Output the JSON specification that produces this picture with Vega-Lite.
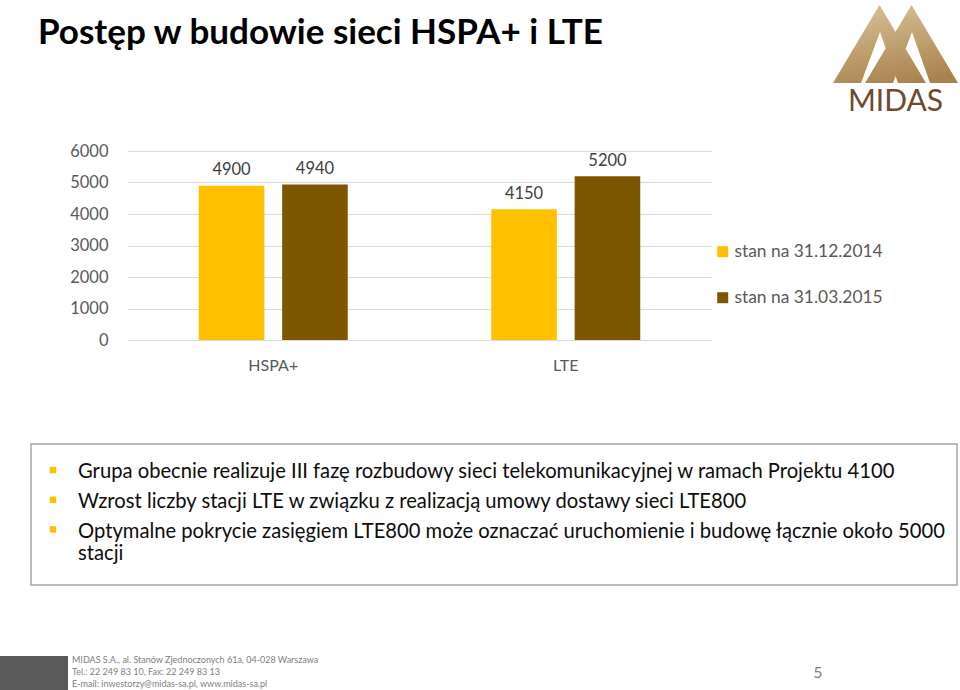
{
  "$schema": "https://vega.github.io/schema/vega-lite/v6.json",
  "background": "white",
  "padding": {"left": 0, "top": 5, "right": 0, "bottom": 0},
  "spacing": 70,
  "config": {"view": {"stroke": null}, "font": "Lato"},
  "vconcat": [
    {
      "spacing": 37,
      "hconcat": [
        {"width": 1, "height": 1, "data": {"values": []}, "mark": {"type": "point", "opacity": 0}},
        {
          "width": 585,
          "height": 189,
          "title": {"text": "Postęp w budowie sieci HSPA+ i LTE", "anchor": "start", "frame": "group", "dx": -89, "offset": -46, "font": "Lato", "fontSize": 35, "fontWeight": "bold", "color": "#000000"},
          "layer": [
            {
              "data": {"values": [
                {"technologia": "HSPA+", "stan": "stan na 31.12.2014", "stacje": 4900},
                {"technologia": "HSPA+", "stan": "stan na 31.03.2015", "stacje": 4940},
                {"technologia": "LTE", "stan": "stan na 31.12.2014", "stacje": 4150},
                {"technologia": "LTE", "stan": "stan na 31.03.2015", "stacje": 5200}
              ]},
              "encoding": {
                "x": {"field": "technologia", "type": "nominal", "sort": ["HSPA+", "LTE"], "scale": {"paddingInner": 0.4906, "paddingOuter": 0.2453},
                      "axis": {"title": null, "labelAngle": 0, "domain": false, "ticks": false, "tickSize": 0, "labelPadding": 17, "labelFontSize": 16, "labelColor": "#595959", "labelFont": "Lato"}},
                "xOffset": {"field": "stan", "type": "nominal", "sort": ["stan na 31.12.2014", "stan na 31.03.2015"], "scale": {"paddingInner": 0.2134, "paddingOuter": 0}},
                "y": {"field": "stacje", "type": "quantitative", "scale": {"domain": [0, 6000], "nice": false},
                      "axis": {"title": null, "values": [0, 1000, 2000, 3000, 4000, 5000, 6000], "format": "d", "domain": false, "ticks": false, "tickSize": 0, "labelPadding": 19, "labelFontSize": 16.5, "labelColor": "#595959", "labelFont": "Lato", "gridColor": "#d9d9d9", "gridWidth": 1}}
              },
              "layer": [
                {
                  "mark": {"type": "bar"},
                  "encoding": {
                    "color": {"field": "stan", "type": "nominal", "sort": ["stan na 31.12.2014", "stan na 31.03.2015"],
                              "scale": {"domain": ["stan na 31.12.2014", "stan na 31.03.2015"], "range": ["#FFC000", "#7F5600"]},
                              "legend": {"title": null, "orient": "none", "legendX": 714, "legendY": 92, "direction": "vertical", "symbolType": "square", "symbolSize": 121, "symbolStrokeWidth": 0, "labelFontSize": 17.4, "labelColor": "#595959", "labelFont": "Lato", "labelOffset": 3, "rowPadding": 27}}
                  }
                },
                {
                  "mark": {"type": "text", "baseline": "alphabetic", "dy": -10.5, "fontSize": 16.5, "color": "#404040"},
                  "encoding": {"text": {"field": "stacje", "type": "quantitative", "format": "d"}}
                }
              ]
            },
            {
              "data": {"values": [{"logo": "MIDAS"}]},
              "layer": [
                {
                  "mark": {"type": "point", "shape": "M-1,0.624L-0.256,-0.624L0.488,0.624L0.04,0.624L-0.248,-0.192L-0.552,0.624ZM-0.488,0.624L0.256,-0.624L1,0.624L0.552,0.624L0.264,-0.192L-0.04,0.624Z",
                           "size": 15625, "filled": true, "opacity": 1, "strokeWidth": 0,
                           "color": {"gradient": "linear", "x1": 0.3, "y1": 0, "x2": 0.6, "y2": 1, "stops": [{"offset": 0, "color": "#d8be96"}, {"offset": 1, "color": "#a9834f"}]}},
                  "encoding": {"x": {"value": 768.5}, "y": {"value": -107}}
                },
                {
                  "mark": {"type": "text", "fontSize": 30, "color": "#6b4b2b", "baseline": "middle", "align": "center"},
                  "encoding": {"x": {"value": 768.5}, "y": {"value": -49}, "text": {"field": "logo"}}
                }
              ]
            }
          ]
        }
      ]
    },
    {
      "spacing": 29,
      "hconcat": [
        {"width": 1, "height": 1, "data": {"values": []}, "mark": {"type": "point", "opacity": 0}},
        {
          "width": 926,
          "height": 141,
          "view": {"stroke": "#a6a6a6", "strokeWidth": 1.5, "fill": "white"},
          "data": {"values": [
            {"punkt": 1, "tekst": "Grupa obecnie realizuje III fazę rozbudowy sieci telekomunikacyjnej w ramach Projektu 4100"},
            {"punkt": 2, "tekst": "Wzrost liczby stacji LTE w związku z realizacją umowy dostawy sieci LTE800"},
            {"punkt": 3, "tekst": "Optymalne pokrycie zasięgiem LTE800 może oznaczać uruchomienie i budowę łącznie około 5000\nstacji"}
          ]},
          "encoding": {
            "y": {"field": "punkt", "type": "ordinal", "scale": {"type": "point", "padding": 0, "range": [28, 87.5]}, "axis": null}
          },
          "layer": [
            {
              "mark": {"type": "point", "shape": "square", "filled": true, "size": 42, "color": "#FFC000", "opacity": 1, "strokeWidth": 0, "yOffset": -2},
              "encoding": {"x": {"datum": "punktor", "type": "nominal", "scale": {"type": "point", "padding": 0, "domain": ["punktor", "tekst"], "range": [22, 47]}, "axis": null}}
            },
            {
              "mark": {"type": "text", "align": "left", "baseline": "middle", "fontSize": 20.2, "lineBreak": "\n", "lineHeight": 22, "color": "#0d0d0d"},
              "encoding": {"x": {"datum": "tekst", "type": "nominal"}, "text": {"field": "tekst"}}
            }
          ]
        }
      ]
    },
    {
      "width": 68,
      "height": 34,
      "view": {"fill": "#595959", "stroke": null},
      "layer": [
        {
          "data": {"values": [
            {"wiersz": 1, "tekst": "MIDAS S.A., al. Stanów Zjednoczonych 61a, 04-028 Warszawa"},
            {"wiersz": 2, "tekst": "Tel.: 22 249 83 10, Fax:  22 249 83 13"},
            {"wiersz": 3, "tekst": "E-mail: inwestorzy@midas-sa.pl, www.midas-sa.pl"}
          ]},
          "mark": {"type": "text", "align": "left", "baseline": "middle", "fontSize": 9, "color": "#808080"},
          "encoding": {
            "x": {"datum": "stopka", "type": "nominal", "scale": {"type": "point", "padding": 0, "domain": ["stopka", "strona"], "range": [72, 818]}, "axis": null},
            "y": {"field": "wiersz", "type": "ordinal", "scale": {"type": "point", "padding": 0, "range": [4, 28]}, "axis": null},
            "text": {"field": "tekst"}
          }
        },
        {
          "data": {"values": [{"strona": 5}]},
          "mark": {"type": "text", "align": "center", "baseline": "middle", "fontSize": 16, "color": "#7f7f7f"},
          "encoding": {
            "x": {"datum": "strona", "type": "nominal"},
            "text": {"field": "strona", "type": "quantitative"}
          }
        }
      ]
    }
  ]
}
